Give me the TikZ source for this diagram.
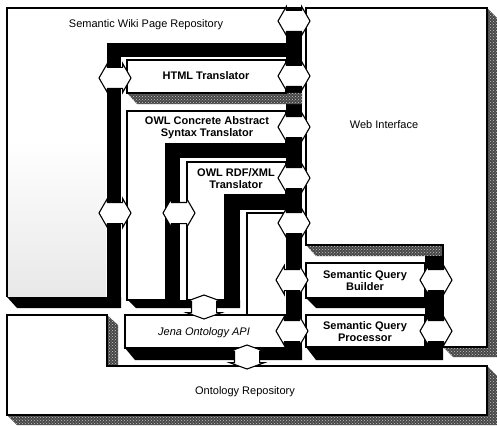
\documentclass[tikz,border=0pt]{standalone}
\usepackage{fontspec}
\setmainfont{Liberation Sans}
\usetikzlibrary{shapes.arrows,patterns}
\begin{document}
\begin{tikzpicture}[x=1pt,y=-1pt,
  face/.style={fill=white,draw=black,line width=1.2pt},
  texture/.style={fill=black!72,postaction={pattern=crosshatch dots,pattern color=gray!45}},
  harrow/.style={double arrow, draw=black, fill=white, line width=1.1pt, inner xsep=0pt, inner ysep=10pt, minimum height=32pt, minimum width=0pt, double arrow head extend=4pt, double arrow tip angle=120},
  varrow/.style={harrow, rotate=90, inner ysep=12pt, minimum height=24pt, double arrow head extend=5pt, double arrow tip angle=140},
  lbl/.style={font=\fontsize{11}{12}\selectfont, align=center, inner sep=0pt},
  blbl/.style={lbl, font=\fontsize{11}{12}\selectfont\bfseries},
  ilbl/.style={lbl, font=\fontsize{11}{12}\selectfont\itshape},
]
\useasboundingbox (0,0) rectangle (497,425);
\fill[white] (0,0) rectangle (497,425);

% Ontology Repository
\fill[texture] (487,366) -- (497,376) -- (497,425) -- (17,425) -- (7,415) -- (487,415) -- cycle;
\fill[texture] (107,315) -- (118,325) -- (118,366) -- (107,366) -- cycle;
\draw[face] (7,315) -- (107,315) -- (107,366) -- (487,366) -- (487,415) -- (7,415) -- cycle;

% Web Interface
\fill[texture] (487,8) -- (497,18) -- (497,357) -- (453,357) -- (443,347) -- (487,347) -- cycle;
\fill[texture] (306,245) -- (316,256) -- (443,256) -- (443,245) -- cycle;
\draw[face] (306,8) -- (487,8) -- (487,347) -- (443,347) -- (443,245) -- (306,245) -- cycle;

% Semantic Wiki Page Repository
\shade[top color=white,bottom color=gray!18] (8,140) rectangle (106,296);
\draw[line width=1.2pt] (7,297) -- (7,8) -- (302,8);
\fill (7,297) -- (17,308) -- (121,308) -- (121,297) -- cycle;

% black walls
\fill (107,43) rectangle (302,57);
\fill (107,43) rectangle (121,308);
\fill (286,8) rectangle (302,360);
\fill (166,144) rectangle (286,158);
\fill (166,144) rectangle (180,308);
\fill (225,195) rectangle (286,210);
\fill (225,195) rectangle (240,308);
\fill (128,300) -- (136,308) -- (240,308) -- (240,300) -- cycle;
\fill (425,256) rectangle (443,360);

% shadows
\fill[texture] (127,93) -- (137,104) -- (302,104) -- (302,93) -- cycle;
\fill (125,348) -- (135,360) -- (302,360) -- (302,348) -- cycle;
\fill (306,298) -- (316,308) -- (443,308) -- (443,298) -- cycle;
\fill (306,347) -- (316,360) -- (443,360) -- (443,347) -- cycle;

% faces
\draw[face] (127,60) rectangle (286,93);
\draw[face] (127,111) -- (286,111) -- (286,144) -- (166,144) -- (166,300) -- (127,300) -- cycle;
\draw[face] (187,162) -- (286,162) -- (286,195) -- (225,195) -- (225,300) -- (187,300) -- cycle;
\draw[line width=1.2pt] (247,315) -- (247,213) -- (286,213);
\draw[face] (125,315) rectangle (286,348);
\draw[face] (306,263) rectangle (425,298);
\draw[face] (306,315) rectangle (425,347);

% arrows
\node[harrow] (a1) at (294,21) {};
\node[harrow] (a2) at (294,76) {};
\node[harrow] (a3) at (294,127) {};
\node[harrow] (a4) at (294,178) {};
\node[harrow] (a5) at (294,223) {};
\node[harrow] (a6) at (292,280) {};
\node[harrow] (a7) at (292,331) {};
\node[harrow] (a8) at (436,280) {};
\node[harrow] (a9) at (436,331) {};
\node[harrow] (b1) at (115,78) {};
\node[harrow] (b2) at (115,213) {};
\node[harrow] (b3) at (179,213) {};
\node[varrow] (v1) at (204,307) {};
\node[varrow] (v2) at (247,357) {};

% labels
\node[lbl] (swprl) at (146,25) {Semantic Wiki Page Repository};
\node[blbl] (htmll) at (206,76) {HTML Translator};
\node[blbl] (owlcl) at (207,128) {OWL Concrete Abstract\\Syntax Translator};
\node[blbl] (rdfl) at (236,179) {OWL RDF/XML\\Translator};
\node[lbl] (wil) at (384,125) {Web Interface};
\node[blbl] (sqbl) at (365,281) {Semantic Query\\Builder};
\node[blbl] (sqpl) at (365,332) {Semantic Query\\Processor};
\node[ilbl] (jenal) at (204,333) {Jena Ontology API};
\node[lbl] (orl) at (245,392) {Ontology Repository};
\end{tikzpicture}
\end{document}
